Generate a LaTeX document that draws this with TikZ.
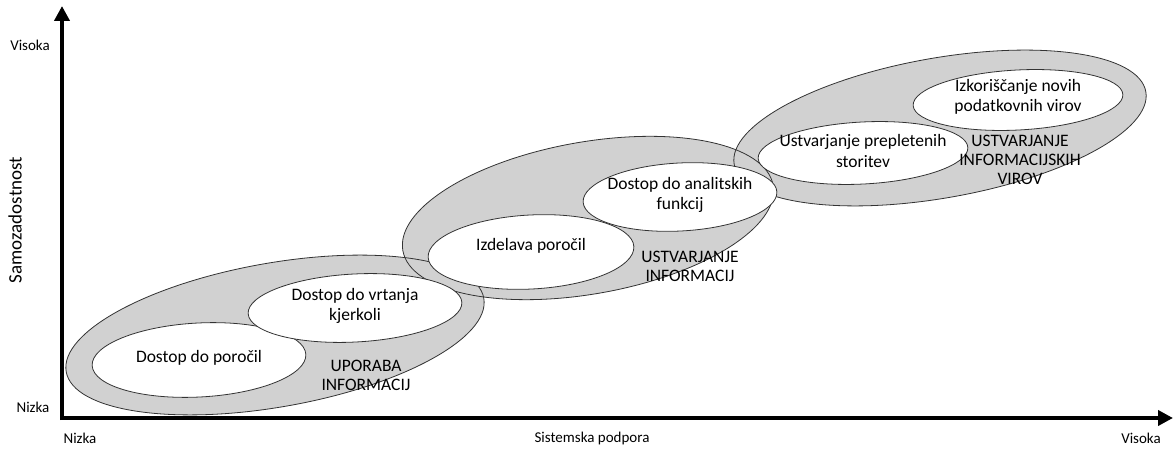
\documentclass[tikz,border=0pt]{standalone}
\usepackage{fontspec}
\setmainfont{Carlito}
\usetikzlibrary{arrows.meta}
\definecolor{stagegray}{gray}{0.82}
\definecolor{rimgray}{gray}{0.2}
\tikzset{
  axis/.style={line width=4pt, -{Triangle[width=15pt,length=15pt]}},
  axislabel/.style={font=\fontsize{15}{17}\selectfont, inner sep=0pt},
  axistitle/.style={font=\fontsize{19}{21}\selectfont, inner sep=0pt},
  stagefill/.style={fill=stagegray},
  stagerim/.style={draw=rimgray, line width=0.8pt},
  itembox/.style={fill=white, draw=rimgray, line width=0.8pt},
  itemtext/.style={font=\fontsize{17.5}{20.5}\selectfont, align=center, inner sep=0pt},
  stagetext/.style={font=\fontsize{17.5}{19}\selectfont, align=center, inner sep=0pt},
}
\begin{document}
\begin{tikzpicture}[x=1pt,y=1pt]
\useasboundingbox (0,0) rectangle (1175,450);

% stage regions (grey)
\path[stagefill] (275,115) ellipse [x radius=212pt, y radius=72pt, rotate=10];
\path[stagefill] (588,232) ellipse [x radius=188pt, y radius=76pt, rotate=10];
\path[stagefill] (940,322) ellipse [x radius=209pt, y radius=70pt, rotate=10];
\path[stagerim] (275,115) ellipse [x radius=212pt, y radius=72pt, rotate=10];
\path[stagerim] (588,232) ellipse [x radius=188pt, y radius=76pt, rotate=10];
\path[stagerim] (940,322) ellipse [x radius=209pt, y radius=70pt, rotate=10];

% capabilities (white)
\path[itembox] (199,90) ellipse [x radius=107pt, y radius=37pt, rotate=3];
\path[itembox] (355,142) ellipse [x radius=107pt, y radius=34pt, rotate=3];
\path[itembox] (531,198) ellipse [x radius=103pt, y radius=37pt, rotate=3];
\path[itembox] (680,253) ellipse [x radius=97pt, y radius=34pt, rotate=3];
\path[itembox] (863,297) ellipse [x radius=105pt, y radius=31pt, rotate=3];
\path[itembox] (1018,350) ellipse [x radius=105pt, y radius=30pt, rotate=3];

\node[itemtext] (porocila) at (199,92) {Dostop do poročil};
\node[itemtext] (vrtanje) at (355,144) {Dostop do vrtanja\\kjerkoli};
\node[itemtext] (izdelava) at (531,204) {Izdelava poročil};
\node[itemtext] (analitika) at (680,255) {Dostop do analitskih\\funkcij};
\node[itemtext] (storitve) at (863,299) {Ustvarjanje prepletenih\\storitev};
\node[itemtext] (viri) at (1018,353) {Izkoriščanje novih\\podatkovnih virov};

\node[stagetext] (uporaba) at (366,75) {UPORABA\\INFORMACIJ};
\node[stagetext] (ustinf) at (690,184) {USTVARJANJE\\INFORMACIJ};
\node[stagetext] (ustvir) at (1020,290) {USTVARJANJE\\INFORMACIJSKIH\\VIROV};

% axes
\coordinate (origin) at (62,32);
\coordinate (ytip) at (62,444);
\coordinate (xtip) at (1173,32);
\draw[axis] ([yshift=-2pt]origin) -- (ytip);
\draw[axis] ([xshift=-2pt]origin) -- (xtip);

\node[axislabel] (yhigh) at (30,405) {Visoka};
\node[axislabel] (ylow) at (33,43) {Nizka};
\node[axistitle, rotate=90] (ytitle) at (15,230) {Samozadostnost};
\node[axislabel] (xlow) at (80,12) {Nizka};
\node[axislabel] (xtitle) at (592,12) {Sistemska podpora};
\node[axislabel] (xhigh) at (1141,12) {Visoka};
\end{tikzpicture}
\end{document}
